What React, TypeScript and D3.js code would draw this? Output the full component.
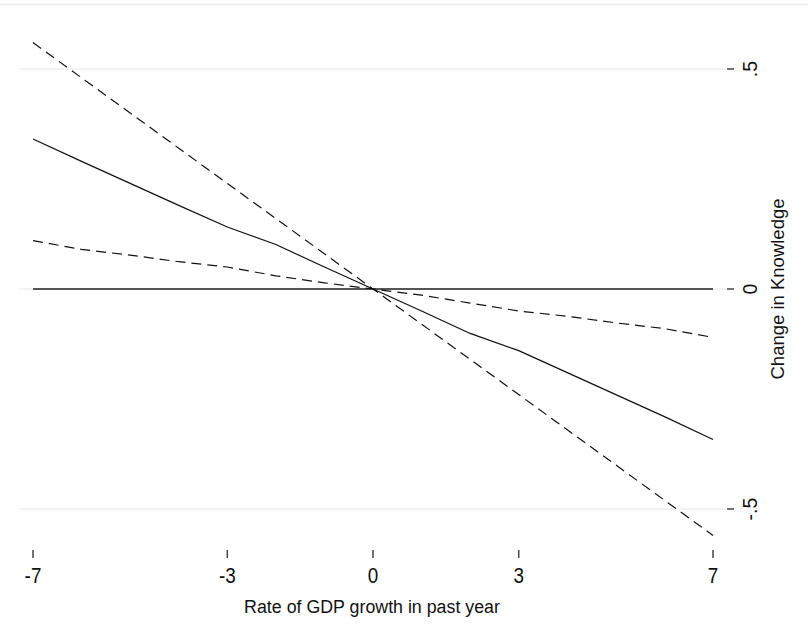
import React from "react";
import * as d3 from "d3";

const growth = [-7, -6, -5, -4, -3, -2, -1, 0, 1, 2, 3, 4, 5, 6, 7];
const effect = [0.341, 0.29, 0.24, 0.19, 0.141, 0.101, 0.05, 0, -0.05, -0.101, -0.14, -0.19, -0.24, -0.29, -0.342];
const ciSteep = [0.56, 0.48, 0.4, 0.32, 0.24, 0.16, 0.08, 0, -0.08, -0.16, -0.24, -0.32, -0.4, -0.48, -0.56];
const ciFlat = [0.11, 0.09, 0.077, 0.062, 0.05, 0.03, 0.014, 0, -0.014, -0.032, -0.05, -0.062, -0.077, -0.09, -0.11];
const xTicks = [-7, -3, 0, 3, 7];
const yTicks = [0.5, 0, -0.5];
const yTickLabels = [".5", "0", "-.5"];
const xTitle = "Rate of GDP growth in past year";
const yTitle = "Change in Knowledge";

const W = 808;
const H = 642;

export default function App() {
  const x = d3.scaleLinear().domain([-7, 7]).range([33, 713]);
  const y = d3.scaleLinear().domain([-0.5, 0.5]).range([509, 69]);
  const line = (vals: number[]) =>
    d3
      .line<number>()
      .x((_, i) => x(growth[i]))
      .y((d) => y(d))(vals) || "";
  const font = "'Liberation Sans', Arial, sans-serif";
  return (
    <svg
      width={W}
      height={H}
      style={{ position: "absolute", left: 0, top: 0, background: "#fff" }}
      fontFamily={font}
    >
      <rect x={0} y={0} width={W} height={H} fill="#fff" />
      <line x1={0} x2={W} y1={4.5} y2={4.5} stroke="#ececec" strokeWidth={1.5} />
      {yTicks.map((t) => (
        <g key={t}>
          <line x1={19} x2={726} y1={y(t)} y2={y(t)} stroke="#e8e8e8" strokeWidth={1.2} />
          <line x1={727} x2={734} y1={y(t)} y2={y(t)} stroke="#444" strokeWidth={1.5} />
        </g>
      ))}
      {yTicks.map((t, i) => (
        <text
          key={"yl" + t}
          transform={`translate(757,${y(t)}) rotate(-90)`}
          textAnchor="middle"
          fontSize={19.5}
          fill="#111"
        >
          {yTickLabels[i]}
        </text>
      ))}
      <text
        transform={`translate(783.5,${y(0)}) rotate(-90)`}
        textAnchor="middle"
        fontSize={18.5}
        fill="#111"
      >
        {yTitle}
      </text>
      {xTicks.map((t) => (
        <g key={"x" + t}>
          <line x1={x(t)} x2={x(t)} y1={550} y2={558} stroke="#444" strokeWidth={1.5} />
          <text
            transform={`translate(${x(t)},583) scale(0.9,1.06)`}
            textAnchor="middle"
            fontSize={21}
            fill="#111"
          >
            {String(t)}
          </text>
        </g>
      ))}
      <text
        transform={`translate(372,612.5) scale(1,1.08)`}
        textAnchor="middle"
        fontSize={17.8}
        fill="#111"
      >
        {xTitle}
      </text>
      <line x1={x(-7)} x2={x(7)} y1={y(0)} y2={y(0)} stroke="#222" strokeWidth={1.4} />
      <path d={line(ciSteep)} fill="none" stroke="#111" strokeWidth={1.2} strokeDasharray="10,6" />
      <path d={line(ciFlat)} fill="none" stroke="#111" strokeWidth={1.2} strokeDasharray="10,6" />
      <path d={line(effect)} fill="none" stroke="#111" strokeWidth={1.2} />
    </svg>
  );
}
